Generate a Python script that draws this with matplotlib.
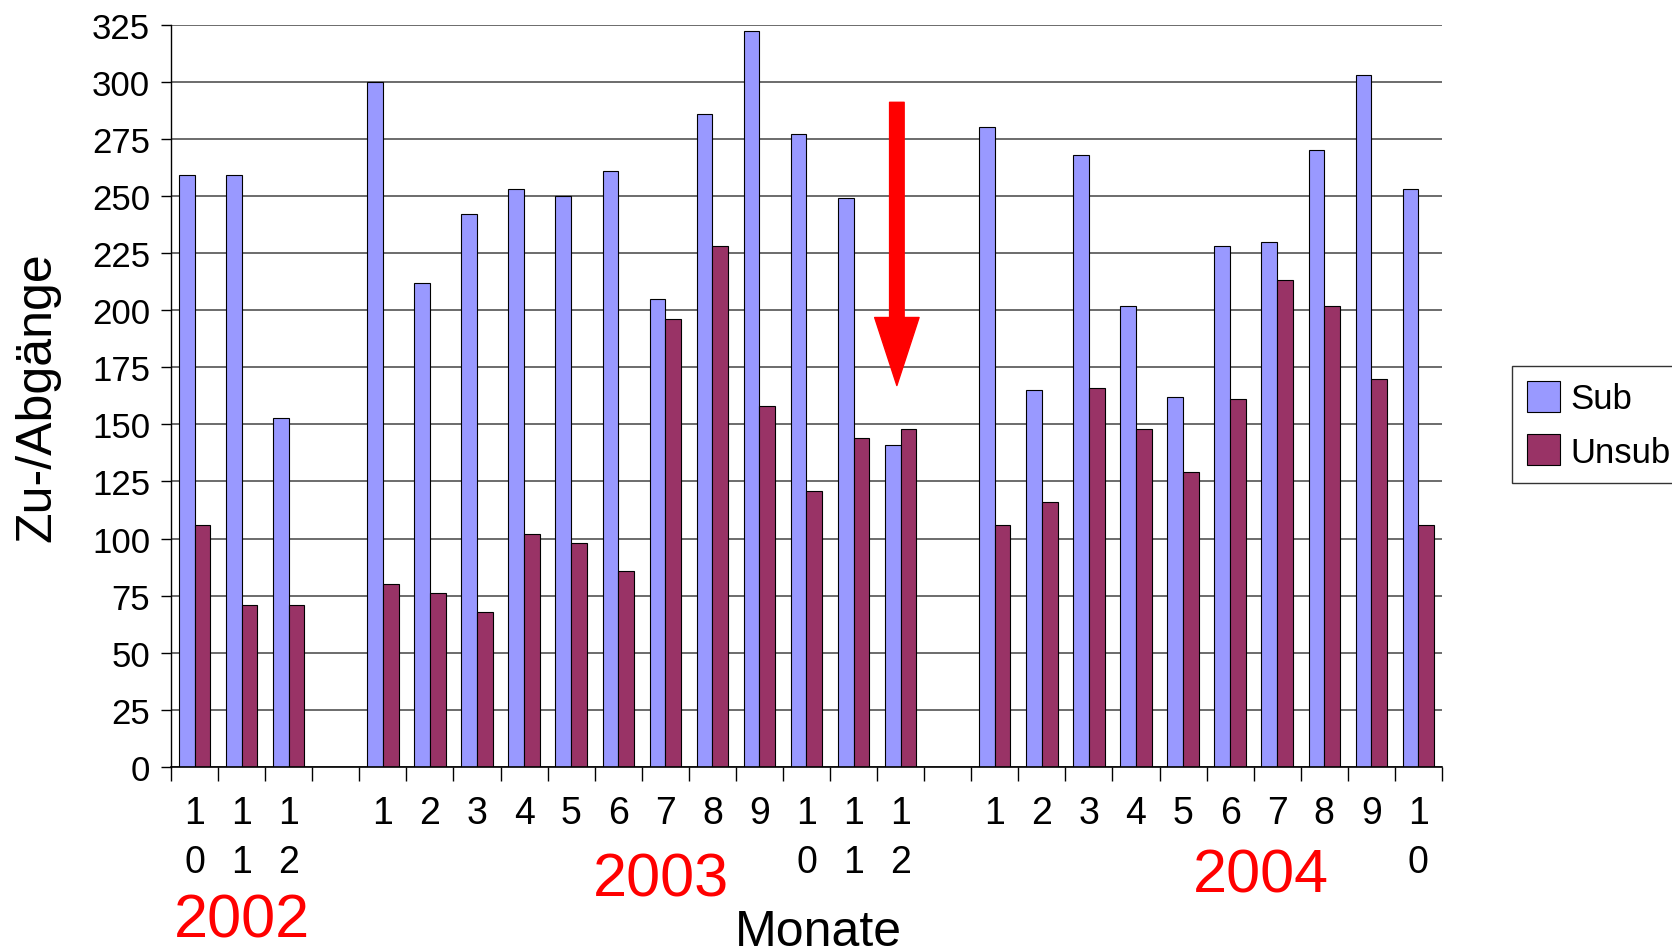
import numpy as np
import matplotlib
matplotlib.use("Agg")
import matplotlib.pyplot as plt
from matplotlib.transforms import blended_transform_factory

plt.rcParams['font.family'] = ['Liberation Sans', 'DejaVu Sans']

# data per year (month labels, Sub, Unsub)
months_2002 = ['10', '11', '12']
sub_2002 = [259, 259, 153]
unsub_2002 = [106, 71, 71]

months_2003 = ['1', '2', '3', '4', '5', '6', '7', '8', '9', '10', '11', '12']
sub_2003 = [300, 212, 242, 253, 250, 261, 205, 286, 322, 277, 249, 141]
unsub_2003 = [80, 76, 68, 102, 98, 86, 196, 228, 158, 121, 144, 148]

months_2004 = ['1', '2', '3', '4', '5', '6', '7', '8', '9', '10']
sub_2004 = [280, 165, 268, 202, 162, 228, 230, 270, 303, 253]
unsub_2004 = [106, 116, 166, 148, 129, 161, 213, 202, 170, 106]

years = ['2002', '2003', '2004']
y_ticks = list(range(0, 326, 25))

# arrow marks 2003/12: from value to value
arrow_slot = 15
arrow_from = 291
arrow_to = 167

# join the years with one empty slot between them
labels = months_2002 + [''] + months_2003 + [''] + months_2004
sub = sub_2002 + [np.nan] + sub_2003 + [np.nan] + sub_2004
unsub = unsub_2002 + [np.nan] + unsub_2003 + [np.nan] + unsub_2004
n = len(labels)
x = np.arange(n) + 0.5

fig = plt.figure(figsize=(16.72, 9.53), dpi=100)
ax = fig.add_axes([0.1023, 0.1941, 0.7601, 0.7790])

w = 1 / 3
ax.bar(x - w / 2, sub, w, color='#9999FF', edgecolor='black', linewidth=0.8, label='Sub', zorder=2)
ax.bar(x + w / 2, unsub, w, color='#993366', edgecolor='black', linewidth=0.8, label='Unsub', zorder=2)

ax.set_xlim(0, n)
ax.set_ylim(0, 325)
ax.set_yticks(y_ticks)
ax.yaxis.grid(True, color='#444444', linewidth=1.1, zorder=0)
ax.set_axisbelow(True)
for s in ['top', 'right']:
    ax.spines[s].set_visible(False)
ax.spines['left'].set_linewidth(1.0)
ax.spines['bottom'].set_linewidth(1.2)

ax.tick_params(axis='y', labelsize=25, length=7, width=1, pad=8, colors='black')
# x ticks on slot borders, labels in slot centers with stacked digits
ax.set_xticks(np.arange(n + 1))
ax.set_xticklabels([])
ax.tick_params(axis='x', which='major', length=10, width=1)
ax.set_xticks(x, minor=True)
ax.set_xticklabels(['\n'.join(l) for l in labels], minor=True, fontsize=27, linespacing=1.46)
ax.tick_params(axis='x', which='minor', length=0, pad=20)

ax.set_ylabel('Zu-/Abgänge', fontsize=36)
ax.yaxis.set_label_coords(-0.087, 0.5)

# year and axis titles below the month labels
blend = blended_transform_factory(ax.transData, fig.transFigure)
ax.text(1.5, 0.0324, years[0], transform=blend, color='red', fontsize=44, ha='center', va='center')
ax.text(10.4, 0.0755, years[1], transform=blend, color='red', fontsize=44, ha='center', va='center')
ax.text(23.16, 0.0794, years[2], transform=blend, color='red', fontsize=44, ha='center', va='center')
ax.text(13.75, 0.0215, 'Monate', transform=blend, fontsize=36, ha='center', va='center')

ax.annotate('', xy=(arrow_slot + 0.42, arrow_to), xytext=(arrow_slot + 0.42, arrow_from),
            arrowprops=dict(arrowstyle='simple,head_length=49,head_width=32,tail_width=10.5',
                            color='red', mutation_scale=1, shrinkA=0, shrinkB=0), zorder=5)

leg = fig.legend(loc='upper left', bbox_to_anchor=(0.9043, 0.6149), fontsize=25,
                 frameon=True, fancybox=False, shadow=False, borderaxespad=0,
                 handlelength=0.95, handleheight=1.0, handletextpad=0.3,
                 labelspacing=0.55, borderpad=0.42)
leg.get_frame().set_edgecolor('black')
leg.get_frame().set_linewidth(1.0)

fig.savefig('out.png', dpi=100)
